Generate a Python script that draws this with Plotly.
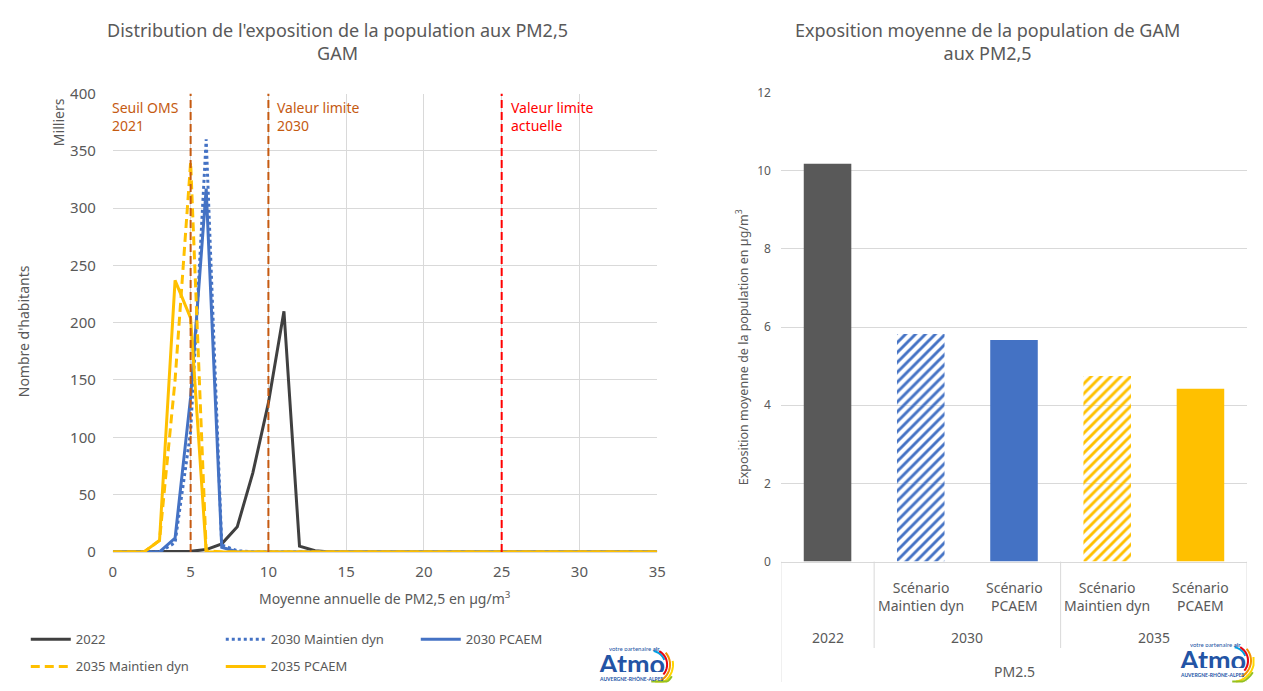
import math
import plotly.graph_objects as go

# ---------------- data ----------------
pm_x = list(range(0, 36))
s_2022 = [0, 0, 0, 0, 0, 0.5, 2, 7, 22, 69, 130, 210, 5, 1] + [0] * 22
s_2030_md = [0, 0, 0, 0, 8, 105, 360, 6, 1] + [0] * 27
s_2030_pc = [0, 0, 0, 0, 12, 135, 317, 4, 0] + [0] * 27
s_2035_md = [0, 0, 0, 10, 150, 340, 1] + [0] * 29
s_2035_pc = [0, 0, 0, 10, 237, 204, 0] + [0] * 29

thresholds = [5, 10, 25]
threshold_labels = ["Seuil OMS<br>2021", "Valeur limite<br>2030", "Valeur limite<br>actuelle"]

bar_cats = ["2022", "2030 Maintien dyn", "2030 PCAEM", "2035 Maintien dyn", "2035 PCAEM"]
bar_vals = [10.18, 5.82, 5.67, 4.75, 4.42]
inner_labels = ["", "Scénario<br>Maintien dyn", "Scénario<br>PCAEM", "Scénario<br>Maintien dyn", "Scénario<br>PCAEM"]
year_labels = ["2022", "2030", "2035"]
year_pos = [0, 1.5, 3.5]

# ---------------- styling ----------------
W, H = 1263, 691
FONT = "Noto Sans"
GREY = "#595959"
GRID = "#D9D9D9"
C_DARK = "#404040"
C_BLUE = "#4472C4"
C_YEL = "#FFC000"
C_ORG = "#C55A11"
C_RED = "#FF0000"


def px(x):
    return x / W


def py(y):
    return 1 - y / H


fig = go.Figure()

# left chart lines
line_specs = [
    ("2022", s_2022, C_DARK, "solid", "legend"),
    ("2030 Maintien dyn", s_2030_md, C_BLUE, "dot", "legend"),
    ("2030 PCAEM", s_2030_pc, C_BLUE, "solid", "legend"),
    ("2035 Maintien dyn", s_2035_md, C_YEL, "9px,5px", "legend2"),
    ("2035 PCAEM", s_2035_pc, C_YEL, "solid", "legend2"),
]
for name, ys, col, dash, lg in line_specs:
    fig.add_trace(go.Scatter(
        x=pm_x, y=ys, name=name, mode="lines",
        line=dict(color=col, width=3, dash=dash),
        xaxis="x", yaxis="y", legend=lg,
    ))

# right chart bars
bar_colors = ["#595959", C_BLUE, C_BLUE, C_YEL, C_YEL]
bar_shapes = ["", "/", "", "/", ""]
fig.add_trace(go.Bar(
    x=bar_cats, y=bar_vals, xaxis="x2", yaxis="y2", showlegend=False,
    width=0.51,
    marker=dict(color=bar_colors, line=dict(width=0),
                pattern=dict(shape=bar_shapes, fgcolor=bar_colors,
                             bgcolor="white", size=7, solidity=0.42,
                             fillmode="replace")),
))

legend_common = dict(orientation="h", xanchor="left", yanchor="middle",
                     entrywidth=140, entrywidthmode="pixels", itemwidth=40,
                     font=dict(family=FONT, size=13, color=GREY),
                     bgcolor="rgba(0,0,0,0)")

fig.update_layout(
    width=W, height=H,
    margin=dict(l=0, r=0, t=0, b=0),
    paper_bgcolor="white", plot_bgcolor="white",
    font=dict(family=FONT, color=GREY),
    xaxis=dict(domain=[px(110), px(660)], range=[0, 35], dtick=5, tick0=0,
               showgrid=True, gridcolor=GRID, gridwidth=1, zeroline=False,
               showline=True, linecolor=GRID, ticks="",
               tickfont=dict(family=FONT, size=15, color=GREY),
               ticklabelstandoff=6, anchor="y"),
    yaxis=dict(domain=[py(557), py(85)], range=[0, 400], dtick=50,
               showgrid=True, gridcolor=GRID, zeroline=False, showline=False,
               ticks="", tickfont=dict(family=FONT, size=15, color=GREY),
               ticklabelstandoff=16, anchor="x"),
    xaxis2=dict(domain=[px(785), px(1256)], type="category",
                categoryorder="array", categoryarray=bar_cats,
                range=[-0.5, 4.5], showticklabels=False, ticks="",
                showline=True, linecolor=GRID, showgrid=False, anchor="y2"),
    yaxis2=dict(domain=[py(567), py(84)], range=[0, 12], dtick=2,
                showgrid=True, gridcolor=GRID, zeroline=False, showline=False,
                ticks="", tickfont=dict(family=FONT, size=12, color=GREY),
                ticklabelstandoff=9, anchor="x2"),
    legend=dict(x=px(22), y=py(647), **legend_common),
    legend2=dict(x=px(22), y=py(675), **legend_common),
)

shapes = []
annots = []

# threshold lines
for t, lab in zip(thresholds, threshold_labels):
    col = C_RED if t == 25 else C_ORG
    shapes.append(dict(type="line", xref="x", yref="y", x0=t, x1=t, y0=0, y1=400,
                       line=dict(color=col, width=2, dash="8px,4px"), layer="above"))
    ax = 0 if t == 5 else t
    annots.append(dict(xref="x", yref="y", x=ax, y=398, text=lab, showarrow=False,
                       xanchor="left", yanchor="top", align="left",
                       xshift=-3 if t == 5 else 7,
                       font=dict(family=FONT, size=14, color=col)))

# titles
annots.append(dict(xref="paper", yref="paper", x=px(337), y=py(31),
                   text="Distribution de l'exposition de la population aux PM2,5<br>GAM",
                   showarrow=False, xanchor="center", yanchor="middle",
                   font=dict(family=FONT, size=18, color=GREY)))
annots.append(dict(xref="paper", yref="paper", x=px(994), y=py(31),
                   text="Exposition moyenne de la population de GAM<br>aux PM2,5",
                   showarrow=False, xanchor="center", yanchor="middle",
                   font=dict(family=FONT, size=18, color=GREY)))

# axis titles left
annots.append(dict(xref="paper", yref="paper", x=px(385), y=py(605),
                   text="Moyenne annuelle de PM2,5 en µg/m<sup>3</sup>", showarrow=False,
                   xanchor="center", yanchor="middle",
                   font=dict(family=FONT, size=14, color=GREY)))
annots.append(dict(xref="paper", yref="paper", x=px(20), y=py(330),
                   text="Nombre d'habitants", showarrow=False, textangle=-90,
                   xanchor="center", yanchor="middle",
                   font=dict(family=FONT, size=14, color=GREY)))
annots.append(dict(xref="paper", yref="paper", x=px(55), y=py(114),
                   text="Milliers", showarrow=False, textangle=-90,
                   xanchor="center", yanchor="middle",
                   font=dict(family=FONT, size=14, color=GREY)))

# right axis title
annots.append(dict(xref="paper", yref="paper", x=px(746), y=py(346),
                   text="Exposition moyenne de la population en µg/m<sup>3</sup>",
                   showarrow=False, textangle=-90, xanchor="center", yanchor="middle",
                   font=dict(family=FONT, size=12.5, color=GREY)))

# right category table
for i, lab in enumerate(inner_labels):
    if lab:
        annots.append(dict(xref="x2", yref="paper", x=bar_cats[i], y=py(603), text=lab,
                           showarrow=False, xanchor="center", yanchor="middle",
                           font=dict(family=FONT, size=14, color=GREY)))
for pos, lab in zip(year_pos, year_labels):
    annots.append(dict(xref="x2", yref="paper", x=pos, y=py(645), text=lab,
                       showarrow=False, xanchor="center", yanchor="middle",
                       font=dict(family=FONT, size=14, color=GREY)))
annots.append(dict(xref="x2", yref="paper", x=2, y=py(680), text="PM2.5",
                   showarrow=False, xanchor="center", yanchor="middle",
                   font=dict(family=FONT, size=14, color=GREY)))
for xb, ybot in [(-0.5, 691), (0.5, 656), (2.5, 656), (4.5, 691)]:
    shapes.append(dict(type="line", xref="x2", yref="paper", x0=xb, x1=xb,
                       y0=py(567), y1=py(ybot), line=dict(color=GRID, width=1)))


# logos
def add_logo(cx, cy):
    annots.append(dict(xref="paper", yref="paper", x=px(cx), y=py(cy), text="<b>Atmo</b>",
                       showarrow=False, xanchor="center", yanchor="middle",
                       height=18, borderpad=0,
                       font=dict(family="Lato", size=27, color="#2354A5")))
    annots.append(dict(xref="paper", yref="paper", x=px(cx + 30), y=py(cy - 15),
                       text="votre partenaire <b>air</b>", showarrow=False,
                       xanchor="right", yanchor="middle", borderpad=0, height=6,
                       font=dict(family="Lato", size=6, color="#2354A5")))
    annots.append(dict(xref="paper", yref="paper", x=px(cx), y=py(cy + 16),
                       text="<b>AUVERGNE-RHÔNE-ALPES</b>", showarrow=False,
                       xanchor="center", yanchor="middle", borderpad=0, height=6,
                       font=dict(family="Lato", size=5, color="#2354A5")))
    ocx, ocy = cx + 20, cy + 2
    for r, col, a0, a1 in [(14, "#00A0E3", -80, -20), (16, "#E30613", -60, 40),
                           (19, "#F39200", -40, 60), (22, "#FFD500", -10, 80),
                           (24, "#95C11F", 30, 90)]:
        pts = []
        for k in range(13):
            a = math.radians(a0 + (a1 - a0) * k / 12)
            xx = ocx + r * math.cos(a)
            yy = ocy + r * math.sin(a)
            pts.append((px(min(xx, W - 0.5)), py(min(yy, H - 0.5))))
        path = "M " + " L ".join(f"{a:.5f},{b:.5f}" for a, b in pts)
        shapes.append(dict(type="path", xref="paper", yref="paper", path=path,
                           line=dict(color=col, width=2)))


add_logo(634, 671)
add_logo(1221, 667)

fig.update_layout(shapes=shapes, annotations=annots)
fig.write_html("out.html")
